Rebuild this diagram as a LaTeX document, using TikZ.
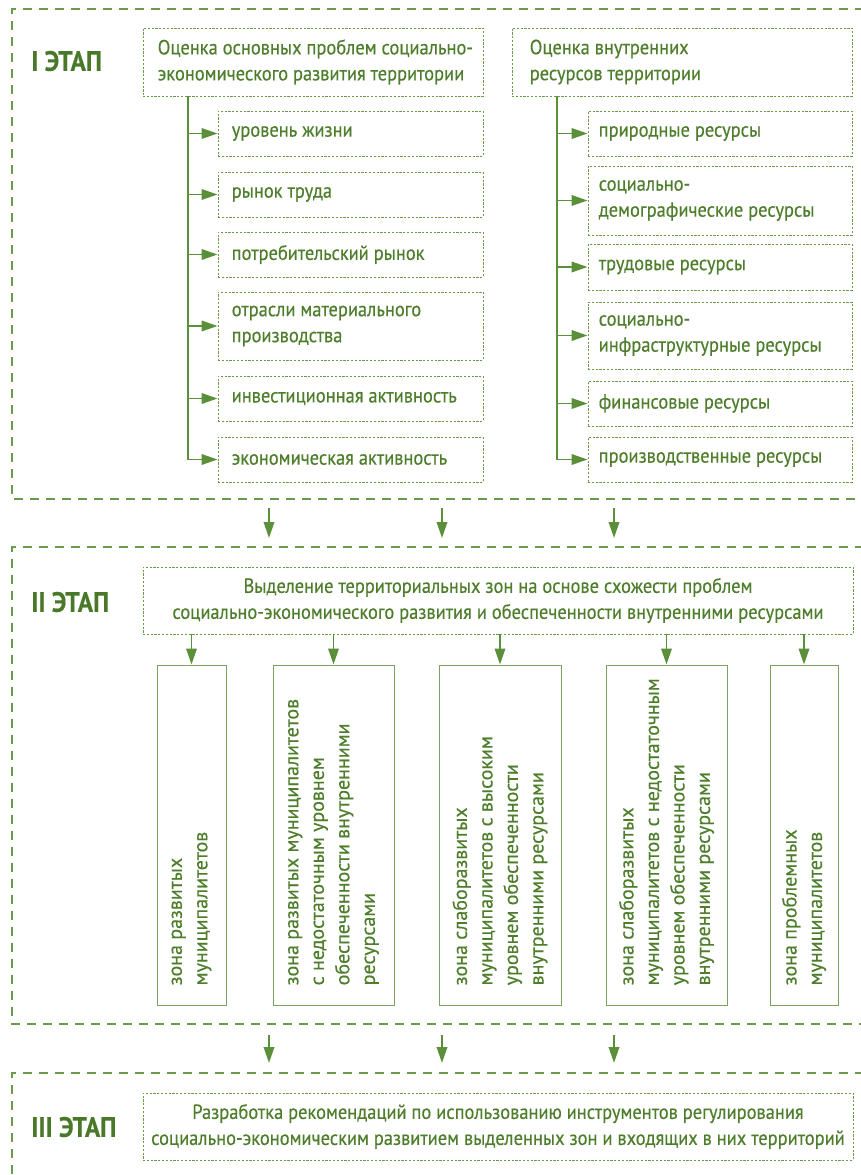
\documentclass[tikz,border=0pt]{standalone}
\usepackage{fontspec}
\setmainfont{PT Sans}[FakeStretch=0.9,FakeBold=0.4]
\newfontfamily\widef{PT Sans}[FakeBold=0.4]
\usetikzlibrary{arrows.meta}
\definecolor{tg}{HTML}{4E7E2C}
\definecolor{lg}{HTML}{5B8F3A}
\definecolor{fg}{HTML}{6A9A4A}
\definecolor{zg}{HTML}{7BA35F}
\definecolor{sg}{HTML}{487828}
\newcommand\mainf{\fontsize{20.5}{26}\selectfont}
\newcommand\zonef{\widef\fontsize{20}{25.5}\selectfont}
\newcommand\stagef{\fontsize{28}{30}\selectfont\bfseries}
\begin{document}
\begin{tikzpicture}[x=1pt,y=-1pt,
  frame/.style={draw=fg, line width=1.4pt, dash pattern=on 9pt off 7pt},
  dbox/.style={draw=fg, line width=0.9pt, dash pattern=on 2.2pt off 1.6pt, inner sep=0pt},
  zbox/.style={draw=zg, line width=1pt, inner sep=0pt, minimum height=340pt},
  txt/.style={text=tg, font=\mainf, inner sep=0pt, align=left},
  ztxt/.style={text=tg, font=\zonef, inner sep=0pt, align=left, rotate=90, anchor=west},
  ctxt/.style={text=tg, font=\mainf, align=center},
  stage/.style={text=sg, font=\stagef, inner sep=0pt, anchor=west},
  arr/.style={draw=lg, line width=1.9pt, -{Triangle[length=16pt,width=10.5pt]}},
]
\useasboundingbox (0,0) rectangle (861,1175);
\clip (0,0) rectangle (861,1175);

% stage frames
\draw[frame] (880,9) -- (12,9) -- (12,499) -- (880,499);
\draw[frame] (880,547) -- (12,547) -- (12,1024) -- (880,1024);
\draw[frame] (880,1073) -- (12,1073) -- (12,1200);

% stage labels
\node[stage] (s1) at (31,61) {I ЭТАП};
\node[stage] (s2) at (31,602) {II ЭТАП};
\node[stage] (s3) at (31,1127) {III ЭТАП};

% top boxes
\node[dbox, minimum width=340pt, minimum height=68pt] (b1) at (313,62) {};
\node[txt, anchor=west] (b1t) at ([xshift=15pt]b1.west) {Оценка основных проблем социально-\\экономического развития территории};
\node[dbox, minimum width=340pt, minimum height=68pt] (b2) at (682,62) {};
\node[txt, anchor=west] (b2t) at ([xshift=18pt]b2.west) {Оценка внутренних\\ресурсов территории};

% left sub boxes
\foreach \n/\y/\h/\t in {l1/133.5/45/{уровень жизни},
                         l2/194.5/45/{рынок труда},
                         l3/254.5/45/{потребительский рынок},
                         l4/326/68/{отрасли материального\\производства},
                         l5/398.5/45/{инвестиционная активность},
                         l6/459.5/45/{экономическая активность}}{
  \node[dbox, minimum width=265pt, minimum height=\h pt] (\n) at (350.5,\y) {};
  \node[txt, anchor=west] (\n t) at ([xshift=14pt]\n.west) {\t};
}
% right sub boxes
\foreach \n/\y/\h/\t in {r1/133.5/45/{природные ресурсы},
                         r2/200.5/69/{социально-\\демографические ресурсы},
                         r3/267/46/{трудовые ресурсы},
                         r4/335.5/67/{социально-\\инфраструктурные ресурсы},
                         r5/403.5/45/{финансовые ресурсы},
                         r6/459.5/45/{производственные ресурсы}}{
  \node[dbox, minimum width=264pt, minimum height=\h pt] (\n) at (720,\y) {};
  \node[txt, anchor=west] (\n t) at ([xshift=11pt]\n.west) {\t};
}

% trunks
\coordinate (tl) at (188,96);
\coordinate (tr) at (557,96);
\draw[arr] (tl) |- (l6.west);
\foreach \n in {l1,l2,l3,l4,l5}{\draw[arr] (tl |- \n.west) -- (\n.west);}
\draw[arr] (tr) |- (r6.west);
\foreach \n in {r1,r2,r3,r4,r5}{\draw[arr] (tr |- \n.west) -- (\n.west);}

% arrows between stages
\foreach \i/\x in {1/269,2/442,3/614}{
  \coordinate (ua\i) at (\x,508);
  \coordinate (ub\i) at (\x,538);
  \draw[arr] (ua\i) -- (ub\i);
  \coordinate (da\i) at (\x,1035);
  \coordinate (db\i) at (\x,1063);
  \draw[arr] (da\i) -- (db\i);
}

% stage II box
\node[dbox, minimum width=710pt, minimum height=67pt, ctxt] (m) at (498,600.5)
  {Выделение территориальных зон на основе схожести проблем\\социально-экономического развития и обеспеченности внутренними ресурсами};

% zone boxes
\node[zbox, minimum width=69pt] (z1) at (191.5,835) {};
\node[zbox, minimum width=121pt] (z2) at (333.5,835) {};
\node[zbox, minimum width=122pt] (z3) at (500,835) {};
\node[zbox, minimum width=121pt] (z4) at (666.5,835) {};
\node[zbox, minimum width=68pt] (z5) at (804,835) {};

\node[ztxt] (z1t) at ([yshift=20pt]z1.south) {зона развитых\\муниципалитетов};
\node[ztxt] (z2t) at ([yshift=20pt]z2.south) {зона развитых муниципалитетов\\с недостаточным уровнем\\обеспеченности внутренними\\ресурсами};
\node[ztxt] (z3t) at ([yshift=20pt]z3.south) {зона слаборазвитых\\муниципалитетов с высоким\\уровнем обеспеченности\\внутренними ресурсами};
\node[ztxt] (z4t) at ([yshift=20pt]z4.south) {зона слаборазвитых\\муниципалитетов с недостаточным\\уровнем обеспеченности\\внутренними ресурсами};
\node[ztxt] (z5t) at ([yshift=20pt]z5.south) {зона проблемных\\муниципалитетов};

\foreach \n in {z1,z2,z3,z4,z5}{\draw[arr] (m.south -| \n.north) -- (\n.north);}

% stage III box
\node[dbox, minimum width=710pt, minimum height=67pt, ctxt] (f) at (498,1126.5)
  {Разработка рекомендаций по использованию инструментов регулирования\\социально-экономическим развитием выделенных зон и входящих в них территорий};
\end{tikzpicture}
\end{document}
